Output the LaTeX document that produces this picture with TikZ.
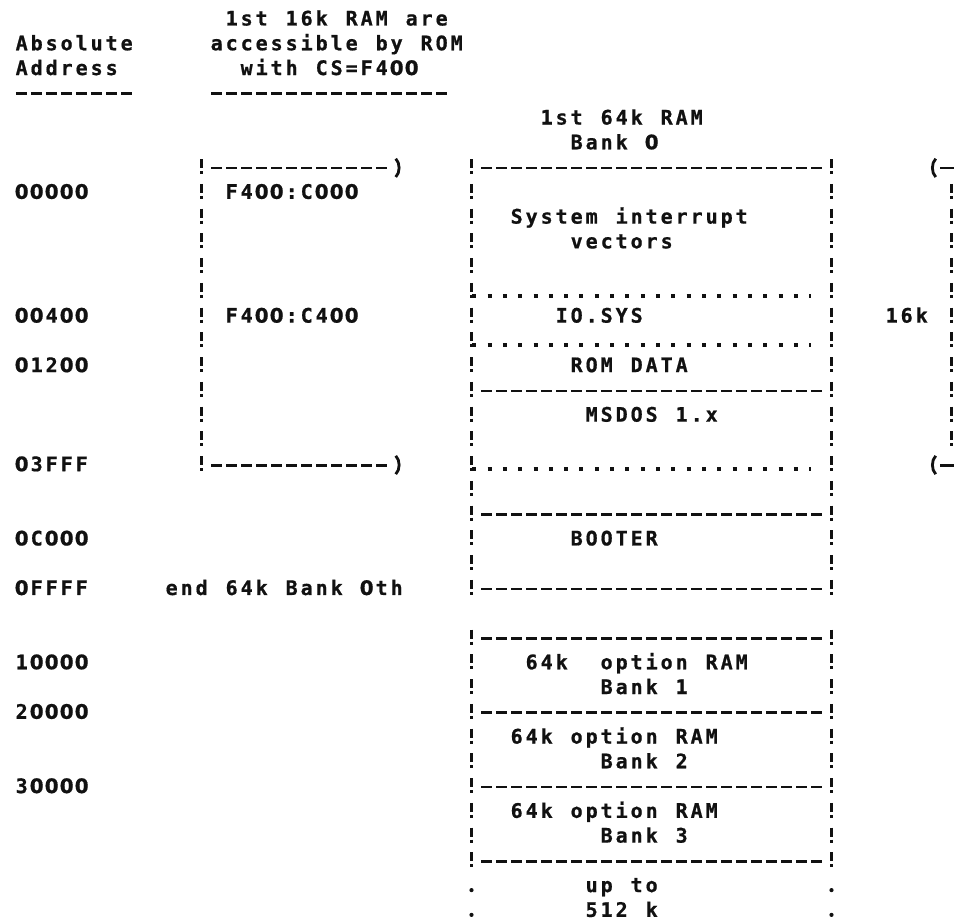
\documentclass[tikz,border=0pt]{standalone}
\usepackage{fontspec}
\usepackage{tikz}
\newfontfamily\dotfont{DejaVu Sans Mono}[BoldFeatures={FakeBold=0.8}]
\newfontfamily\zerofont{DejaVu Sans}[BoldFeatures={FakeBold=0.8}]
\definecolor{ink}{HTML}{111111}

% one character per printer cell, zero without its dot
\newcommand\cellglyph[1]{\ifx0#1{\zerofont 0}\else#1\fi}
\newcommand\cellrun[1]{\cellstep#1\relax}
\newcommand\cellstep[1]{\ifx#1\relax\else\makebox[15pt]{\cellglyph{#1}}\expandafter\cellstep\fi}

\tikzset{
  txt/.style={anchor=base west, inner sep=0pt, text=ink,
    font=\dotfont\bfseries\fontsize{20pt}{20pt}\selectfont},
  bang/.style={ink, line width=3.4pt, dash pattern=on 9pt off 3pt on 3pt off 9.76pt},
  dashrow/.style={ink, line width=2.8pt, dash pattern=on 11pt off 4pt, dash phase=13pt},
  dotrow/.style={ink, line width=4pt, dash pattern=on 4pt off 11.32pt},
  paren/.style={ink, line width=2.8pt}
}

\begin{document}
\begin{tikzpicture}[x=15pt, y=-24.76pt, line cap=butt]
  \useasboundingbox (-0.9333,-0.0299) rectangle (62.6667,37.248);
  % headings
  \node[txt] (romhd1) at (14,1) {\cellrun{1st~16k~RAM~are}};
  \node[txt] (abshd1) at (0,2) {\cellrun{Absolute}};
  \node[txt] (romhd2) at (13,2) {\cellrun{accessible~by~ROM}};
  \node[txt] (abshd2) at (0,3) {\cellrun{Address}};
  \node[txt] (romhd3) at (15,3) {\cellrun{with~CS=F400}};
  \draw[dashrow] (0,4-.2423) -- (8,4-.2423);
  \draw[dashrow] (13,4-.2423) -- (29,4-.2423);
  \node[txt] (bankhd1) at (35,5) {\cellrun{1st~64k~RAM}};
  \node[txt] (bankhd2) at (37,6) {\cellrun{Bank~0}};
  % absolute addresses
  \node[txt] (a00000) at (0,8) {\cellrun{00000}};
  \node[txt] (a00400) at (0,13) {\cellrun{00400}};
  \node[txt] (a01200) at (0,15) {\cellrun{01200}};
  \node[txt] (a03fff) at (0,19) {\cellrun{03FFF}};
  \node[txt] (a0c000) at (0,22) {\cellrun{0C000}};
  \node[txt] (a0ffff) at (0,24) {\cellrun{0FFFF}};
  \node[txt] (bankend) at (10,24) {\cellrun{end~64k~Bank~0th}};
  \node[txt] (a10000) at (0,27) {\cellrun{10000}};
  \node[txt] (a20000) at (0,29) {\cellrun{20000}};
  \node[txt] (a30000) at (0,32) {\cellrun{30000}};
  % ROM window
  \draw[bang] (12.5,7-.6058) -- (12.5,19);
  \draw[dashrow] (13,7-.2423) -- (25,7-.2423);
  \draw[dashrow] (13,19-.2423) -- (25,19-.2423);
  \draw[paren] (25.45,7-.62) .. controls (25.75,7-.45) and (25.75,7-.05) .. (25.45,7+.12);
  \draw[paren] (25.45,19-.62) .. controls (25.75,19-.45) and (25.75,19-.05) .. (25.45,19+.12);
  \node[txt] (romc000) at (14,8) {\cellrun{F400:C000}};
  \node[txt] (romc400) at (14,13) {\cellrun{F400:C400}};
  % bank 0
  \draw[bang] (30.5,7-.6058) -- (30.5,24);
  \draw[bang] (54.5,7-.6058) -- (54.5,24);
  \draw[dashrow] (31,7-.2423) -- (54,7-.2423);
  \draw[dotrow] (30.55,12-.08) -- (53.1,12-.08);
  \draw[dotrow] (30.55,14-.08) -- (53.1,14-.08);
  \draw[dashrow] (31,16-.2423) -- (54,16-.2423);
  \draw[dotrow] (30.55,19-.08) -- (53.1,19-.08);
  \draw[dashrow] (31,21-.2423) -- (54,21-.2423);
  \draw[dashrow] (31,24-.2423) -- (54,24-.2423);
  \node[txt] (vect1) at (33,9) {\cellrun{System~interrupt}};
  \node[txt] (vect2) at (37,10) {\cellrun{vectors}};
  \node[txt] (iosys) at (36,13) {\cellrun{IO.SYS}};
  \node[txt] (romdata) at (37,15) {\cellrun{ROM~DATA}};
  \node[txt] (msdos) at (38,17) {\cellrun{MSDOS~1.x}};
  \node[txt] (booter) at (37,22) {\cellrun{BOOTER}};
  % 16k bracket
  \draw[bang] (62.5,8-.6058) -- (62.5,18);
  \draw[paren] (61.45,7-.62) .. controls (61.15,7-.45) and (61.15,7-.05) .. (61.45,7+.12);
  \draw[paren] (61.45,19-.62) .. controls (61.15,19-.45) and (61.15,19-.05) .. (61.45,19+.12);
  \draw[paren] (61.75,7-.2423) -- (62.7,7-.2423);
  \draw[paren] (61.75,19-.2423) -- (62.7,19-.2423);
  \node[txt] (size16k) at (58,13) {\cellrun{16k}};
  % option banks
  \draw[bang] (30.5,26-.6058) -- (30.5,35);
  \draw[bang] (54.5,26-.6058) -- (54.5,35);
  \draw[dashrow] (31,26-.2423) -- (54,26-.2423);
  \draw[dashrow] (31,29-.2423) -- (54,29-.2423);
  \draw[dashrow] (31,32-.2423) -- (54,32-.2423);
  \draw[dashrow] (31,35-.2423) -- (54,35-.2423);
  \node[txt] (opt1) at (34,27) {\cellrun{64k~~option~RAM}};
  \node[txt] (bank1) at (39,28) {\cellrun{Bank~1}};
  \node[txt] (opt2) at (33,30) {\cellrun{64k~option~RAM}};
  \node[txt] (bank2) at (39,31) {\cellrun{Bank~2}};
  \node[txt] (opt3) at (33,33) {\cellrun{64k~option~RAM}};
  \node[txt] (bank3) at (39,34) {\cellrun{Bank~3}};
  % open end
  \fill[ink] (30.5,36-.08) circle (2.1pt) (54.5,36-.08) circle (2.1pt);
  \fill[ink] (30.5,37-.08) circle (2.1pt) (54.5,37-.08) circle (2.1pt);
  \node[txt] (upto1) at (38,36) {\cellrun{up~to}};
  \node[txt] (upto2) at (38,37) {\cellrun{512~k}};
\end{tikzpicture}
\end{document}
